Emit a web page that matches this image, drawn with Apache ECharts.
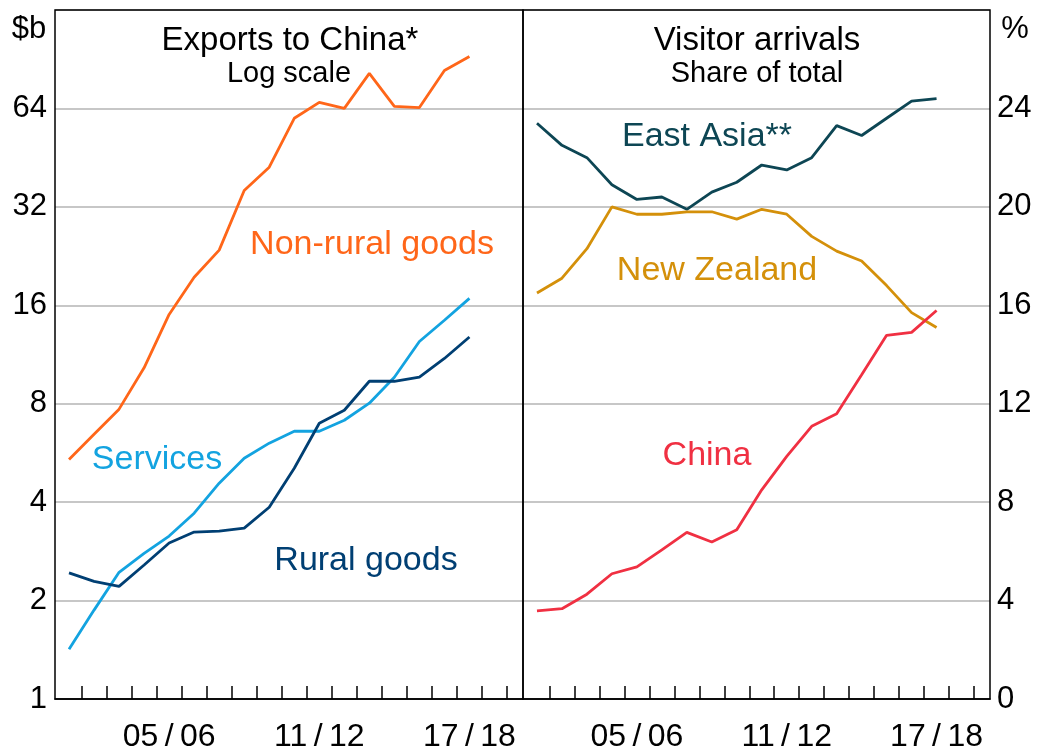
<!DOCTYPE html>
<html>
<head>
<meta charset="utf-8">
<script src="https://cdn.jsdelivr.net/npm/echarts@6/dist/echarts.min.js"></script>
<style>
  html, body { margin: 0; padding: 0; background: #fff; }
  #chart { width: 1041px; height: 751px; }
</style>
</head>
<body>
<div id="chart"></div>
<script>
// financial years, 2001/02 to 2017/18
const categories = ['01/02', '02/03', '03/04', '04/05', '05/06', '06/07', '07/08', '08/09', '09/10',
  '10/11', '11/12', '12/13', '13/14', '14/15', '15/16', '16/17', '17/18'];
const xLabelYears = ['05/06', '11/12', '17/18'];

// exports to China, $b (log scale)
const nonRural = [5.4, 6.45, 7.7, 10.3, 15.0, 19.5, 23.6, 35.9, 42.3, 59.7, 66.8, 64.0, 81.9, 64.9, 64.4, 83.6, 92.3];
const services = [1.42, 1.87, 2.44, 2.79, 3.15, 3.7, 4.57, 5.45, 6.06, 6.59, 6.59, 7.12, 8.03, 9.64, 12.4, 14.4, 16.8];
const rural = [2.43, 2.29, 2.21, 2.57, 3.0, 3.24, 3.26, 3.33, 3.86, 5.08, 6.97, 7.64, 9.37, 9.37, 9.64, 11.0, 12.8];

// visitor arrivals, share of total, %
const eastAsia = [23.4, 22.5, 22.0, 20.9, 20.3, 20.4, 19.9, 20.6, 21.0, 21.7, 21.5, 22.0, 23.3, 22.9, 23.6, 24.3, 24.4];
const newZealand = [16.5, 17.1, 18.3, 20.0, 19.7, 19.7, 19.8, 19.8, 19.5, 19.9, 19.7, 18.8, 18.2, 17.8, 16.8, 15.7, 15.1];
const china = [3.58, 3.67, 4.26, 5.09, 5.37, 6.06, 6.77, 6.38, 6.88, 8.5, 9.86, 11.08, 11.59, 13.18, 14.78, 14.9, 15.79];

const FONT = "'Liberation Sans', Arial, sans-serif";
const pts = arr => arr.map((v, i) => [i, v]);
const tickValues = Array.from({ length: categories.length + 1 }, (_, i) => i + 0.5);
const labelValues = xLabelYears.map(y => categories.indexOf(y));

const myChart = echarts.init(document.getElementById('chart'));

const xAxisBase = gridIndex => ({
  type: 'value',
  gridIndex: gridIndex,
  min: -0.56,
  max: 18.14,
  axisLine: { show: true, lineStyle: { color: '#000', width: 1.5 } },
  axisTick: {
    show: true, inside: true, length: 13,
    customValues: tickValues,
    lineStyle: { color: '#000', width: 1.5 }
  },
  splitLine: { show: false },
  axisLabel: {
    customValues: labelValues,
    formatter: v => categories[Math.round(v)].replace('/', '\u2009/\u2009'),
    color: '#000', fontSize: 32, fontFamily: FONT, margin: 22
  }
});

const lineSeries = (name, data, color, xi, yi) => ({
  name: name,
  type: 'line',
  xAxisIndex: xi,
  yAxisIndex: yi,
  data: pts(data),
  symbol: 'none',
  lineStyle: { color: color, width: 2.8 },
  silent: true
});

const label = (text, x, y, color, size) => ({
  type: 'text',
  x: x, y: y,
  style: {
    text: text, fill: color, font: size + 'px ' + FONT,
    textAlign: 'center', textVerticalAlign: 'middle'
  }
});

// panel frames, drawn above the gridlines
const frame = (x, w) => ({
  type: 'rect',
  z: 100,
  shape: { x: x, y: 10, width: w, height: 689 },
  style: { fill: null, stroke: '#000', lineWidth: 1.5 },
  silent: true
});

const option = {
  animation: false,
  grid: [
    { left: 55, top: 10, width: 468, height: 689, outerBoundsMode: 'none', containLabel: false },
    { left: 523, top: 10, width: 467, height: 689, outerBoundsMode: 'none', containLabel: false }
  ],
  xAxis: [xAxisBase(0), xAxisBase(1)],
  yAxis: [
    {
      type: 'log', logBase: 2, gridIndex: 0, min: 1, max: 128,
      axisLine: { show: false }, axisTick: { show: false },
      splitLine: { show: true, lineStyle: { color: '#b4b4b4', width: 1.5 } },
      axisLabel: {
        showMaxLabel: false,
        color: '#000', fontSize: 31, fontFamily: FONT, margin: 8
      }
    },
    {
      type: 'value', gridIndex: 1, position: 'right', min: 0, max: 28, interval: 4,
      axisLine: { show: false }, axisTick: { show: false },
      splitLine: { show: true, lineStyle: { color: '#b4b4b4', width: 1.5 } },
      axisLabel: {
        showMaxLabel: false,
        color: '#000', fontSize: 31, fontFamily: FONT, margin: 7
      }
    }
  ],
  graphic: [
    frame(55, 468),
    frame(523, 467),
    label('Exports to China*', 290, 41, '#000', 33),
    label('Log scale', 289, 74, '#000', 29),
    label('Visitor arrivals', 757, 41, '#000', 33),
    label('Share of total', 757, 74, '#000', 29),
    label('$b', 29, 29, '#000', 31),
    label('%', 1015, 29, '#000', 31),
    label('Non-rural goods', 372, 245, '#ff6619', 34),
    label('Services', 157, 460, '#13a3e0', 34),
    label('Rural goods', 366, 561, '#003f73', 34),
    label('East Asia**', 707, 137, '#0d4654', 34),
    label('New Zealand', 717, 271, '#d4900a', 34),
    label('China', 707, 456, '#f03042', 34)
  ],
  series: [
    lineSeries('Non-rural goods', nonRural, '#ff6619', 0, 0),
    lineSeries('Services', services, '#13a3e0', 0, 0),
    lineSeries('Rural goods', rural, '#003f73', 0, 0),
    lineSeries('East Asia', eastAsia, '#0d4654', 1, 1),
    lineSeries('New Zealand', newZealand, '#d4900a', 1, 1),
    lineSeries('China', china, '#f03042', 1, 1)
  ]
};

myChart.setOption(option);
</script>
</body>
</html>
